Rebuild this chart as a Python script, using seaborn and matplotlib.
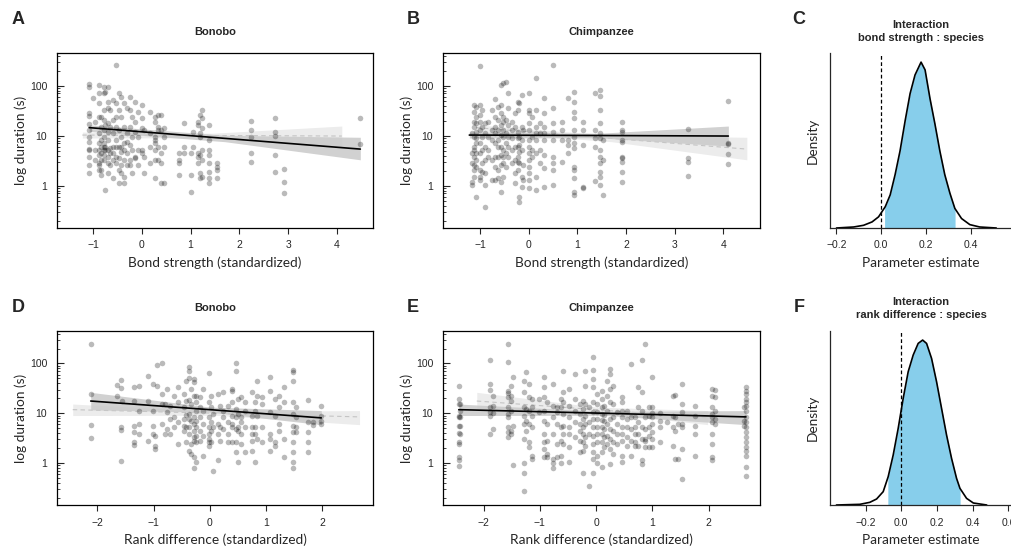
import numpy as np
import pandas as pd
import matplotlib
matplotlib.use("Agg")
import matplotlib.pyplot as plt
import matplotlib.ticker as mticker
import seaborn as sns

# ------------------------------
# Data (x = standardized predictor, y = log10 duration in s)
# ------------------------------

# Panel A: bonobo, bond strength
bonobo_bond_cols = [
    (-1.08, [2.03, 1.98, 1.45, 1.40, 1.23, 1.11, 0.98, 0.88, 0.73, 0.71, 0.58, 0.41, 0.26]),
    (-1.00, [1.75]),
    (-0.96, [1.28, 0.71, 0.51]),
    (-0.88, [2.01, 1.85, 1.65, 1.38, 1.05, 0.85, 0.71, 0.61, 0.45, 0.41, 0.31]),
    (-0.83, [1.38, 1.18, 0.91, 0.78, 0.65, 0.51, 0.31, 0.21]),
    (-0.78, [1.98, 1.85, 1.51, 1.31, 1.11, 0.98, 0.85, 0.78, 0.71, 0.61, 0.51]),
    (-0.75, [-0.09, 1.88, 1.21, 0.78, 0.71]),
    (-0.70, [1.98, 1.68, 1.55, 1.25, 1.08, 0.91, 0.71, 0.58, 0.45, 0.25]),
    (-0.66, [1.51, 1.18, 0.75, 0.65, 0.41]),
    (-0.59, [1.71, 1.31, 1.05, 0.78, 0.65, 0.51, 0.15]),
    (-0.53, [2.41, 1.65, 1.38, 1.18, 0.91, 0.78, 0.58, 0.45]),
    (-0.47, [1.85, 1.51, 1.11, 0.78, 0.55, 0.31, 0.05]),
    (-0.42, [1.78, 1.38, 0.98, 0.78, 0.68, 0.41, 0.25]),
    (-0.36, [1.65, 1.18, 0.85, 0.71, 0.51, 0.18, 0.05]),
    (-0.30, [1.55, 1.05, 0.88, 0.65, 0.41]),
    (-0.25, [1.78, 1.51, 1.18, 0.81, 0.51, 0.41]),
    (-0.20, [1.38, 0.98, 0.71, 0.25]),
    (-0.15, [1.68, 1.28, 1.08, 0.58, 0.55]),
    (-0.08, [1.48, 0.98, 0.71, 0.41]),
    (0.00, [1.61, 1.35, 1.15, 0.71, 0.65]),
    (0.05, [1.11, 0.58, 0.25]),
    (0.16, [1.48, 1.05, 0.78, 0.45]),
    (0.26, [1.38, 1.28, 0.98, 0.91, 0.85, 0.71, 0.51, 0.15]),
    (0.33, [1.41, 1.18, 1.11, 0.78, 0.51]),
    (0.40, [1.41, 1.11, 0.65, 0.45, 0.05]),
    (0.46, [1.15, 0.98, 0.78, 0.05]),
    (0.77, [0.65, 0.51, 0.45, 0.21]),
    (0.87, [1.25, 0.78, 0.65]),
    (1.01, [0.65, 0.21, -0.12]),
    (1.05, [1.08, 0.78]),
    (1.16, [1.28, 1.21, 0.65, 0.58, 0.45]),
    (1.20, [1.41, 1.05, 0.98, 0.61, 0.25, 0.15]),
    (1.24, [1.51, 1.35, 1.15, 0.71, 0.51, 0.18]),
    (1.37, [1.21, 0.91, 0.71, 0.61, 0.45, 0.28, 0.15, 0.05]),
    (1.54, [0.45, 0.38, 0.31, 0.15]),
    (2.24, [1.30, 1.11, 0.98, 0.65, 0.48]),
    (2.74, [1.36, 1.08, 1.00, 0.61, 0.28]),
    (2.91, [0.33, 0.08, -0.15]),
    (4.48, [1.36, 0.83]),
]

# Panel B: chimpanzee, bond strength
chimp_bond_cols = [
    (-1.17, [1.05, 0.65, 0.45, 0.08, 0.01]),
    (-1.13, [1.61, 1.48, 1.28, 1.18, 0.98, 0.78, 0.71, 0.58, 0.41, 0.31, 0.18]),
    (-1.08, [1.58, 1.38, 1.25, 1.08, 0.95, 0.85, 0.65, 0.51, -0.22, 0.38]),
    (-1.01, [2.39, 1.61, 1.41, 1.28, 1.11, 0.85, 0.65, 0.31, 0.18, 0.11]),
    (-0.96, [1.51, 1.18, 0.98, 0.71, 0.45, 0.28]),
    (-0.89, [1.25, 1.05, 0.78, 0.51, 0.25, 0.01, -0.42]),
    (-0.83, [1.28, 0.98, 0.71, 0.58]),
    (-0.76, [1.51, 1.11, 0.91, 0.51, 0.11]),
    (-0.69, [1.73, 1.38, 1.18, 1.05, 0.85, 0.58, 0.38, 0.11]),
    (-0.64, [1.58, 1.31, 1.11, 0.91, 0.78, 0.58, 0.31, 0.15]),
    (-0.57, [2.01, 1.61, 1.45, 1.21, 1.01, 0.78, 0.61, 0.41, 0.08, -0.12]),
    (-0.52, [2.05, 1.38, 1.28, 1.11, 0.98, 0.71, 0.58, 0.45, 0.18]),
    (-0.46, [2.08, 1.31, 1.05, 0.85, 0.65, 0.38]),
    (-0.42, [1.85, 1.55, 1.21, 0.98, 0.78, 0.58]),
    (-0.35, [1.28, 1.11, 0.95, 0.71, 0.45]),
    (-0.28, [1.45, 1.18, 0.78, 0.51, 0.25, 0.05]),
    (-0.23, [1.68, 1.51, 1.08, 0.95, 0.78, 0.58, 0.48, 0.31]),
    (-0.19, [1.65, 0.98, 0.81, 0.68, 0.45, -0.22, -0.32]),
    (-0.14, [1.81, 1.18, 0.91, 0.71, 0.18, -0.02]),
    (-0.11, [1.11, 0.41, 0.11]),
    (0.01, [1.85, 1.51, 1.45, 1.25, 1.11, 0.91, 0.78, 0.65, 0.51, 0.38, 0.25, 0.11, -0.05]),
    (0.06, [1.38, 0.98, 0.71, 0.58]),
    (0.16, [2.15, 1.51, 1.18, 1.05, 0.91, 0.65, 0.18, -0.09]),
    (0.23, [1.25, 1.05, 0.71, 0.45]),
    (0.32, [1.75, 1.45, 1.18, 1.05, 0.91, 0.61, 0.35, -0.03]),
    (0.49, [2.41, 1.55, 1.25, 1.08, 0.91, 0.58, 0.45, 0.31, 0.01]),
    (0.68, [1.28, 1.11, 0.91, 0.48]),
    (0.81, [1.75, 0.91, 0.81, 0.65]),
    (0.92, [1.88, 1.68, 1.48, 1.35, 1.11, 0.97, 0.85, 0.75, 0.38, 0.31, 0.15, -0.12, -0.19]),
    (1.11, [1.28, 1.11, 0.81, -0.02, -0.05]),
    (1.36, [1.85, 1.11, 0.95, 0.78, 0.10]),
    (1.46, [1.91, 1.79, 1.51, 1.25, 1.05, 0.95, 0.71, 0.58, 0.45, 0.28, 0.18, 0.01]),
    (1.52, [0.91, 0.51, -0.19]),
    (1.91, [1.28, 1.11, 1.08, 0.91, 0.88, 0.58, 0.55, 0.48, 0.28, 0.08]),
    (3.27, [1.13, 0.56, 0.48, 0.20]),
    (4.10, [1.69, 0.85, 0.83, 0.63, 0.43]),
]

# Panel D: bonobo, rank difference
bonobo_rank_cols = [
    (-2.12, [2.39, 1.39, 0.77, 0.50]),
    (-1.66, [1.57, 1.34]),
    (-1.59, [1.67, 1.50, 0.73, 0.67, 0.03]),
    (-1.57, [1.25]),
    (-1.35, [1.52, 1.24, 0.75, 0.62, 0.42, 0.37]),
    (-1.26, [1.54, 1.05, 0.79, 0.59]),
    (-1.11, [1.74, 1.25, 0.45]),
    (-1.02, [1.59, 1.05, 0.74, 0.59]),
    (-0.98, [0.55, 0.35, 0.29]),
    (-0.94, [1.97, 1.55]),
    (-0.86, [2.01, 1.39, 1.19, 0.79]),
    (-0.80, [1.19, 0.59]),
    (-0.76, [1.49, 1.02, 0.69]),
    (-0.71, [1.15, 0.89, 0.59]),
    (-0.64, [1.35, 0.92, 0.72]),
    (-0.56, [1.52, 1.22, 0.82, 0.39]),
    (-0.47, [1.39, 1.12, 0.89, 0.75, 0.65]),
    (-0.43, [1.65, 1.25, 0.97, 0.72, 0.42]),
    (-0.37, [1.93, 1.85, 1.70, 1.27, 0.99, 0.89, 0.72, 0.59, 0.25]),
    (-0.33, [1.49, 1.19, 0.85, 0.39, 0.19]),
    (-0.28, [1.69, 1.62, 1.35, 0.92, 0.79, 0.65, 0.52, 0.45, 0.12, -0.11]),
    (-0.24, [1.35, 1.22, 1.05, 0.85, 0.72, 0.55, 0.42, 0.02]),
    (-0.18, [1.32, 1.12, 0.92, 0.65, 0.45]),
    (-0.12, [1.49, 1.05, 0.79, 0.55, 0.15]),
    (-0.02, [1.80, 1.22, 0.92, 0.72, 0.59, 0.49, 0.42, 0.35]),
    (0.02, [1.35, 1.12, 0.82, 0.65, 0.42]),
    (0.06, [0.99, 0.72, -0.16]),
    (0.14, [1.39, 0.79, 0.59, 0.05]),
    (0.18, [1.15, 0.72, 0.45]),
    (0.24, [1.42, 1.05, 0.92, 0.69]),
    (0.33, [1.15, 0.82, 0.59, 0.42]),
    (0.39, [1.49, 1.45, 1.22, 0.95, 0.79, 0.72, 0.42]),
    (0.46, [2.00, 1.85, 1.09, 0.92, 0.69, 0.42, 0.22]),
    (0.50, [1.29, 0.99, 0.72, 0.65, 0.02]),
    (0.55, [1.32, 0.92, 0.82, 0.59, 0.39]),
    (0.62, [1.22, 1.05, 0.72, 0.22]),
    (0.74, [1.42, 0.95, 0.72, 0.59, 0.45, 0.25]),
    (0.80, [1.22, 1.05, 0.72, 0.59, 0.02]),
    (0.84, [1.65, 1.35, 0.95, 0.49]),
    (0.92, [1.32, 1.19, 0.72, 0.42]),
    (1.07, [1.72, 1.45, 1.02, 0.59, 0.49, 0.25]),
    (1.16, [1.29, 0.95, 0.42, 0.35]),
    (1.22, [1.34, 1.12, 0.79, 0.65]),
    (1.31, [1.52, 1.22, 0.49, 0.12]),
    (1.48, [1.87, 1.82, 1.65, 1.22, 0.99, 0.75, 0.62, 0.42, 0.22, 0.02, -0.11]),
    (1.53, [1.12, 0.92, 0.72, 0.62]),
    (1.75, [1.27, 0.82, 0.62, 0.42, 0.23]),
    (1.84, [0.82, 0.77]),
    (1.97, [1.14, 0.95, 0.85, 0.79]),
]

# Panel E: chimpanzee, rank difference
chimp_rank_cols = [
    (-2.44, [1.55, 1.29, 1.19, 0.95, 0.92, 0.74, 0.60, 0.42, 0.39, 0.12, 0.05, -0.07]),
    (-2.41, [1.19, 1.05, 0.93, 0.75, 0.59]),
    (-1.88, [2.07, 1.59, 1.47, 1.12, 1.02, 0.95, 0.59]),
    (-1.83, [1.35, 1.15, 1.00, 0.69]),
    (-1.56, [2.39, 2.02, 1.45, 1.40, 1.32, 1.12, 0.99, 0.92, 0.72, 0.62, 0.52]),
    (-1.51, [1.55, 1.35, 1.25, 1.05, 0.59, 0.65]),
    (-1.47, [1.73, 0.74, -0.05]),
    (-1.29, [1.65, 1.42, 1.12, 0.95, 0.79, 0.49, 0.00, -0.21, -0.57]),
    (-1.24, [1.82, 1.09, 0.85, 0.65]),
    (-1.20, [1.59, 1.32, 1.05, 0.79, 0.42, 0.32]),
    (-1.14, [1.29, 1.12, 0.95, 0.72, 0.15, 0.09]),
    (-1.01, [1.29, 1.02]),
    (-0.93, [1.72, 1.53, 1.32, 1.05, 0.85, 0.59, 0.42, 0.29, 0.12]),
    (-0.88, [1.22, 0.79, 0.45, 0.19, 0.12]),
    (-0.77, [1.59, 1.14, 0.92, 0.59, 0.09, -0.01, -0.11]),
    (-0.70, [1.12, 1.02, 0.79, 0.39, 0.12]),
    (-0.63, [1.29, 1.12, 0.72, 0.45, 0.15, -0.01]),
    (-0.58, [1.85, 1.42, 1.22, 0.99, 0.75, 0.59, 0.39]),
    (-0.49, [1.49, 1.15, 0.92, 0.72, 0.59, 0.32, 0.02]),
    (-0.37, [1.79, 1.29, 1.05, 0.82, 0.52]),
    (-0.28, [1.19, 0.99, 0.79, 0.65, 0.45, 0.22]),
    (-0.24, [1.25, 1.09, 0.89, 0.72, 0.59, 0.42, 0.25, -0.21]),
    (-0.20, [1.85, 1.55, 1.19, 0.95, 0.79, 0.52, 0.35]),
    (-0.12, [1.12, 0.82, 0.59, -0.47]),
    (-0.06, [2.13, 1.87, 1.69, 1.52, 1.22, 1.02, 0.89, 0.72, 0.55, 0.39, 0.22, 0.09, -0.21]),
    (0.01, [1.39, 1.19, 1.02, 0.89, 0.72, 0.59, 0.42, 0.15, -0.01]),
    (0.10, [1.45, 1.29, 1.12, 0.99, 0.87, 0.72, 0.59, 0.42, 0.22, -0.08]),
    (0.14, [1.15, 0.97, 0.85, 0.69, 0.52, 0.32]),
    (0.19, [1.65, 1.35, 1.05, 0.79, 0.55, 0.39]),
    (0.24, [1.89, 1.79, 1.49, 1.22, 0.89, 0.69, 0.49, 0.29, -0.03]),
    (0.30, [1.55, 1.19, 0.92, 0.65, 0.42, 0.19]),
    (0.37, [1.02, 0.79, 0.59, 0.39]),
    (0.46, [1.32, 1.22, 1.05, 0.92, 0.72, 0.59, 0.45, 0.15, 0.02]),
    (0.54, [1.05, 0.89, 0.72, 0.52, 0.35]),
    (0.62, [1.99, 0.92, 0.69, 0.45, 0.15]),
    (0.69, [0.92, 0.72, 0.59, 0.42, 0.35]),
    (0.75, [1.52, 1.12, 0.82, 0.59, 0.35]),
    (0.81, [2.07, 1.42, 1.05, 0.72, 0.49, 0.05, -0.03]),
    (0.86, [2.40, 0.92, 0.69, 0.49, 0.45, 0.32]),
    (0.93, [1.12, 0.95, 0.72, 0.55, 0.32]),
    (1.00, [1.72, 1.13, 1.00, 0.92, 0.79, 0.62, 0.49, 0.33]),
    (1.14, [1.00, 0.85, 0.72, 0.42]),
    (1.25, [0.82]),
    (1.36, [1.34, 0.95, 0.72, 0.35]),
    (1.40, [1.37, 0.92, 0.65, 0.09]),
    (1.46, [0.79, 0.09]),
    (1.52, [1.59, 1.19, 1.02, 0.79, 0.72, 0.29, -0.33]),
    (1.76, [1.15, 0.95, 0.75, 0.59, 0.15]),
    (2.05, [1.49, 1.35, 1.12, 0.99, 0.92, 0.82, 0.59, 0.39, 0.12, 0.05]),
    (2.11, [1.47, 1.32, 1.05, 0.89, 0.79]),
    (2.63, [1.12, 0.85, 0.75]),
    (2.66, [1.53, 1.45, 1.39, 1.29, 1.22, 1.15, 1.05, 0.92, 0.82, 0.72, 0.62, 0.52,
            0.42, 0.32, 0.25, 0.15, -0.08, -0.26]),
]

# Model fits (predicted duration in s with confidence band) at left / middle / right
bonobo_bond_fit_x = [-1.08, 1.70, 4.48]
bonobo_bond_fit = [14.5, 8.85, 5.4]
bonobo_bond_lo = [12.2, 7.6, 3.3]
bonobo_bond_hi = [16.5, 10.2, 9.3]

chimp_bond_fit_x = [-1.22, 1.44, 4.10]
chimp_bond_fit = [10.3, 10.1, 9.85]
chimp_bond_lo = [9.0, 9.1, 6.2]
chimp_bond_hi = [11.8, 11.2, 15.6]

bonobo_rank_fit_x = [-2.12, 0.0, 1.98]
bonobo_rank_fit = [17.6, 11.8, 8.07]
bonobo_rank_lo = [11.7, 10.5, 5.9]
bonobo_rank_hi = [26.3, 13.3, 11.3]

chimp_rank_fit_x = [-2.44, 0.11, 2.66]
chimp_rank_fit = [11.8, 10.0, 8.45]
chimp_rank_lo = [9.0, 9.1, 5.9]
chimp_rank_hi = [15.3, 10.9, 11.3]

# Posterior densities of the interaction terms (relative heights)
bond_post_x = [-0.2, -0.123, -0.079, -0.041, -0.012, 0.018, 0.04, 0.062, 0.084, 0.107, 0.129,
               0.151, 0.178, 0.196, 0.218, 0.24, 0.262, 0.284, 0.307, 0.329, 0.359, 0.396,
               0.44, 0.514]
bond_post_h = [0, 3, 8, 18, 33, 63, 98, 158, 228, 318, 398, 453, 491, 468, 383, 308, 228,
               158, 103, 58, 28, 10, 3, 0]
bond_ci = [0.015, 0.33]

rank_post_x = [-0.363, -0.232, -0.176, -0.138, -0.101, -0.073, -0.045, -0.017, 0.011, 0.039,
               0.067, 0.095, 0.12, 0.142, 0.17, 0.198, 0.226, 0.254, 0.282, 0.31, 0.329,
               0.366, 0.404, 0.479]
rank_post_h = [0, 2, 8, 18, 40, 85, 150, 230, 320, 400, 450, 485, 495, 485, 440, 370, 290,
               210, 140, 80, 50, 20, 6, 0]
rank_ci = [-0.075, 0.33]

# ------------------------------
# Figure setup
# ------------------------------
sns.set_style("ticks")
plt.rcParams["font.family"] = ["Liberation Sans", "DejaVu Sans"]
plt.rcParams["axes.linewidth"] = 0.9

W, H = 1011, 553
fig = plt.figure(figsize=(W / 100, H / 100), dpi=100)


def rect(l, t, r, b):
    return [l / W, 1 - b / H, (r - l) / W, (b - t) / H]


def cols_to_df(cols):
    xs, ys = [], []
    for x, vals in cols:
        xs += [x] * len(vals)
        ys += [10 ** v for v in vals]
    return pd.DataFrame({"x": xs, "dur": ys})


def draw_scatter(ax, cols, own, other, xlim, xticks, xlabel):
    fx, fy, flo, fhi = other
    ax.fill_between(fx, flo, fhi, color="#ececec", lw=0, zorder=1)
    ax.plot(fx, fy, color="#c4c4c4", lw=0.8, ls=(0, (4, 3)), zorder=2)
    fx, fy, flo, fhi = own
    ax.fill_between(fx, flo, fhi, color="#c9c9c9", lw=0, zorder=2, alpha=0.85)
    df = cols_to_df(cols)
    sns.scatterplot(data=df, x="x", y="dur", ax=ax, color="black", alpha=0.27,
                    s=16, linewidth=0, zorder=3)
    sns.lineplot(x=fx, y=fy, ax=ax, color="black", lw=1.2, zorder=4)
    ax.set_yscale("log")
    ax.set_ylim(0.143, 450)
    ax.set_xlim(*xlim)
    ax.set_xticks(xticks)
    ax.set_xticklabels([f"{t:g}".replace("-", "\u2212") for t in xticks])
    ax.yaxis.set_major_locator(mticker.FixedLocator([1, 10, 100]))
    ax.yaxis.set_major_formatter(mticker.FixedFormatter(["1", "10", "100"]))
    ax.yaxis.set_minor_locator(mticker.LogLocator(base=10, subs=np.arange(2, 10)))
    ax.yaxis.set_minor_formatter(mticker.NullFormatter())
    ax.tick_params(axis="x", direction="out", length=4, width=0.8, labelsize=7.5, pad=5)
    ax.tick_params(axis="y", which="major", direction="in", length=5, width=0.8,
                   labelsize=7.5, pad=7)
    ax.tick_params(axis="y", which="minor", direction="in", length=2.5, width=0.6)
    for s in ax.spines.values():
        s.set_visible(True)
        s.set_color("black")
    ax.set_xlabel(xlabel, fontsize=9.8, family="Lato")
    ax.set_ylabel("log duration (s)", fontsize=9.8, family="Lato")
    ax.xaxis.set_label_coords(0.5, -0.165)
    ax.yaxis.set_label_coords(-0.095, 0.5)


def draw_density(ax, xs, hs, ci, xlim, xticks):
    xs = np.array(xs)
    dens = np.array(hs, dtype=float)
    dens = dens / np.trapezoid(dens, xs)
    inside = (xs > ci[0]) & (xs < ci[1])
    sx = np.concatenate([[ci[0]], xs[inside], [ci[1]]])
    sy = np.concatenate([[np.interp(ci[0], xs, dens)], dens[inside],
                         [np.interp(ci[1], xs, dens)]])
    ax.fill_between(sx, 0, sy, color="#87ceeb", lw=0)
    sns.lineplot(x=xs, y=dens, ax=ax, color="black", lw=1.2)
    ax.axvline(0, color="black", lw=0.9, ls=(0, (3, 2)))
    ax.set_xlim(*xlim)
    ax.set_ylim(0, dens.max() * 1.055)
    ax.set_yticks([])
    ax.set_xticks(xticks)
    ax.set_xticklabels([f"{t:.1f}".replace("-", "\u2212") for t in xticks])
    ax.tick_params(axis="x", direction="out", length=4, width=0.8, labelsize=7.5, pad=5)
    ax.spines["top"].set_visible(False)
    ax.spines["right"].set_visible(False)
    ax.set_xlabel("Parameter estimate", fontsize=9.8, family="Lato")
    ax.set_ylabel("Density", fontsize=9.8, family="Lato")
    ax.xaxis.set_label_coords(0.5, -0.165)
    ax.yaxis.set_label_coords(-0.06, 0.5)


bonobo_bond = (bonobo_bond_fit_x, bonobo_bond_fit, bonobo_bond_lo, bonobo_bond_hi)
chimp_bond = (chimp_bond_fit_x, chimp_bond_fit, chimp_bond_lo, chimp_bond_hi)
bonobo_rank = (bonobo_rank_fit_x, bonobo_rank_fit, bonobo_rank_lo, bonobo_rank_hi)
chimp_rank = (chimp_rank_fit_x, chimp_rank_fit, chimp_rank_lo, chimp_rank_hi)

axA = fig.add_axes(rect(57, 53, 373, 228))
draw_scatter(axA, bonobo_bond_cols, bonobo_bond, chimp_bond, (-1.74, 4.74),
             [-1, 0, 1, 2, 3, 4], "Bond strength (standardized)")
axB = fig.add_axes(rect(443, 53, 760, 228))
draw_scatter(axB, chimp_bond_cols, chimp_bond, bonobo_bond, (-1.76, 4.75),
             [-1, 0, 1, 2, 3, 4], "Bond strength (standardized)")
axC = fig.add_axes(rect(830, 53, 1011, 228))
draw_density(axC, bond_post_x, bond_post_h, bond_ci, (-0.229, 0.58),
             [-0.2, 0.0, 0.2, 0.4])

axD = fig.add_axes(rect(57, 331, 373, 505))
draw_scatter(axD, bonobo_rank_cols, bonobo_rank, chimp_rank, (-2.72, 2.90),
             [-2, -1, 0, 1, 2], "Rank difference (standardized)")
axE = fig.add_axes(rect(443, 331, 760, 505))
draw_scatter(axE, chimp_rank_cols, chimp_rank, bonobo_rank, (-2.72, 2.91),
             [-2, -1, 0, 1, 2], "Rank difference (standardized)")
axF = fig.add_axes(rect(830, 331, 1011, 505))
draw_density(axF, rank_post_x, rank_post_h, rank_ci, (-0.399, 0.615),
             [-0.2, 0.0, 0.2, 0.4, 0.6])

# Titles and panel letters
def ftext(x, y, s, **kw):
    fig.text(x / W, 1 - y / H, s, **kw)

for x, y, s in [(215, 32, "Bonobo"), (601, 32, "Chimpanzee"),
                (215, 308, "Bonobo"), (601, 308, "Chimpanzee")]:
    ftext(x, y, s, ha="center", va="center", fontsize=8, fontweight="bold")
ftext(921, 25, "Interaction", ha="center", va="center", fontsize=8, fontweight="bold")
ftext(921, 38, "bond strength : species", ha="center", va="center", fontsize=8,
      fontweight="bold")
ftext(921, 302, "Interaction", ha="center", va="center", fontsize=8, fontweight="bold")
ftext(921, 315, "rank difference : species", ha="center", va="center", fontsize=8,
      fontweight="bold")

for x, y, s in [(18, 19, "A"), (413, 19, "B"), (799, 19, "C"),
                (18, 307, "D"), (413, 307, "E"), (799, 307, "F")]:
    ftext(x, y, s, ha="center", va="center", fontsize=13, fontweight="bold")

fig.savefig("out.png", dpi=100)
